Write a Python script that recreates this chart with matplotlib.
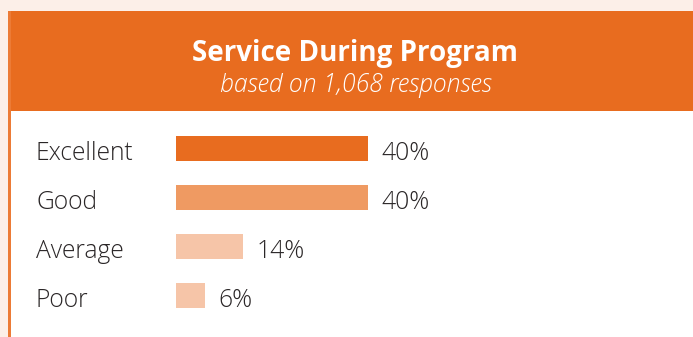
import matplotlib.pyplot as plt
from matplotlib.patches import Rectangle
from matplotlib.transforms import blended_transform_factory

categories = ['Excellent', 'Good', 'Average', 'Poor']
percents = [40, 40, 14, 6]
bar_colors = ['#E86C1F', '#EF9A62', '#F6C5A8', '#F6C5A8']
title = 'Service During Program'
subtitle = 'based on 1,068 responses'

W, H = 693, 337
ORANGE = '#E86C1F'
TEXT = '#2A2627'

plt.rcParams['font.family'] = ['Open Sans', 'DejaVu Sans']

fig = plt.figure(figsize=(W / 100, H / 100), dpi=100)
fig.patch.set_facecolor('#FCEFE8')


def px_rect(x0, y0, x1, y1, color):
    # rectangle given in pixels from the top-left corner
    fig.patches.append(Rectangle((x0 / W, 1 - y1 / H), (x1 - x0) / W, (y1 - y0) / H,
                                 transform=fig.transFigure, facecolor=color,
                                 edgecolor='none', zorder=-1))


# card: white body, orange header, orange left edge
px_rect(8, 11, W, H, 'white')
px_rect(8, 11, W, 111, ORANGE)
px_rect(8, 11, 11, H, '#EC7B36')

fig.text(355 / W, 1 - 61 / H, title, ha='center', va='baseline',
         color='white', fontsize=20, fontweight='bold')
fig.text(356 / W, 1 - 92 / H, subtitle, ha='center', va='baseline',
         color='white', fontsize=17.8, fontstyle='italic', fontweight='light')

# bar area: 4.8 px per percent, bars start at x=176
x0, x1 = 176, W
y0, y1 = 124, 320
ax = fig.add_axes([x0 / W, 1 - y1 / H, (x1 - x0) / W, (y1 - y0) / H])
ax.set_zorder(2)
ax.set_xlim(0, (x1 - x0) / 4.8)
ax.set_ylim(len(categories) - 0.5, -0.5)
ax.axis('off')

pos = list(range(len(categories)))
ax.barh(pos, percents, height=0.49, color=bar_colors)

trans = blended_transform_factory(fig.transFigure, ax.transData)
for i, (cat, v) in enumerate(zip(categories, percents)):
    ax.text(36 / W, i + 0.23, cat, transform=trans, ha='left', va='baseline',
            color=TEXT, fontsize=17.7, fontweight='light')
    ax.text(v + 13.5 / 4.8, i + 0.23, f'{v}%', ha='left', va='baseline',
            color=TEXT, fontsize=17.7, fontweight='light')

fig.savefig('out.png', dpi=100, facecolor=fig.get_facecolor())
